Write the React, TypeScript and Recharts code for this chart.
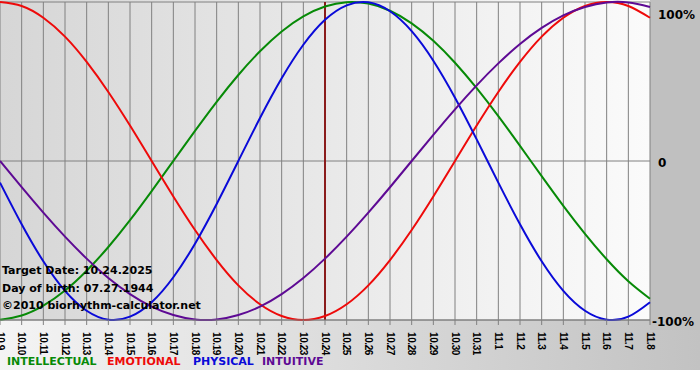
import { LineChart, Line, XAxis, YAxis, CartesianGrid, ReferenceLine } from 'recharts';

// Days shown on the x axis (month.day)
const days = [
  '10.9', '10.10', '10.11', '10.12', '10.13', '10.14', '10.15', '10.16', '10.17', '10.18',
  '10.19', '10.20', '10.21', '10.22', '10.23', '10.24', '10.25', '10.26', '10.27', '10.28',
  '10.29', '10.30', '10.31', '11.1', '11.2', '11.3', '11.4', '11.5', '11.6', '11.7', '11.8',
];

// Cycle values in percent, one per day
const intellectual = [
  -99.9, -97.2, -91.0, -81.5, -69.0, -54.1, -37.2, -18.9, 0, 18.9,
  37.2, 54.1, 69.0, 81.5, 91.0, 97.2, 99.9, 99.0, 94.5, 86.6,
  75.6, 61.8, 45.8, 28.2, 9.5, -9.5, -28.2, -45.8, -61.8, -75.6, -86.6,
];
const emotional = [
  100, 97.5, 90.1, 78.2, 62.3, 43.4, 22.3, 0, -22.3, -43.4,
  -62.3, -78.2, -90.1, -97.5, -100, -97.5, -90.1, -78.2, -62.3, -43.4,
  -22.3, 0, 22.3, 43.4, 62.3, 78.2, 90.1, 97.5, 100, 97.5, 90.1,
];
const physical = [
  -13.6, -39.8, -63.1, -81.7, -94.2, -99.8, -97.9, -88.8, -73.1, -52.0,
  -27.0, 0, 27.0, 52.0, 73.1, 88.8, 97.9, 99.8, 94.2, 81.7,
  63.1, 39.8, 13.6, -13.6, -39.8, -63.1, -81.7, -94.2, -99.8, -97.9, -88.8,
];
const intuitive = [
  0, -16.5, -32.5, -47.6, -61.4, -73.6, -83.7, -91.6, -96.9, -99.7,
  -99.7, -96.9, -91.6, -83.7, -73.6, -61.4, -47.6, -32.5, -16.5, 0,
  16.5, 32.5, 47.6, 61.4, 73.6, 83.7, 91.6, 96.9, 99.7, 99.7, 96.9,
];

const targetDay = '10.24';
const yTicks = [-100, 0, 100];
const yLabels: Record<number, string> = { 100: '100%', 0: '0', [-100]: '-100%' };

const data = days.map((day, i) => ({
  day,
  intellectual: intellectual[i],
  emotional: emotional[i],
  physical: physical[i],
  intuitive: intuitive[i],
}));

const COLORS = {
  intellectual: '#078a07',
  emotional: '#ee0a0a',
  physical: '#0a0ad8',
  intuitive: '#5e0a94',
};

function DayTick({ x, y, payload }: any) {
  return (
    <text
      x={x}
      y={y + 5}
      transform={`rotate(90 ${x} ${y + 5})`}
      dy="0.35em"
      textAnchor="start"
      fontFamily="Liberation Sans, Arial, sans-serif"
      fontWeight="bold"
      fontSize={10}
      letterSpacing={-0.4}
      fill="#000"
    >
      {payload.value}
    </text>
  );
}

function PctTick({ x, y, payload }: any) {
  const v = payload.value as number;
  const dx = v === -100 ? -6 : 0;
  const dy = v === 100 ? 6 : 2;
  return (
    <text
      x={x + dx}
      y={y + dy}
      dy="0.35em"
      textAnchor="start"
      fontFamily="DejaVu Sans, Verdana, sans-serif"
      fontWeight="bold"
      fontSize={12}
      fill="#000"
    >
      {yLabels[v]}
    </text>
  );
}

const infoStyle: React.CSSProperties = {
  position: 'absolute',
  left: 2,
  fontFamily: 'DejaVu Sans, Verdana, sans-serif',
  fontWeight: 'bold',
  fontSize: 11,
  lineHeight: 1,
  color: '#000',
  whiteSpace: 'nowrap',
};

export default function App() {
  return (
    <div style={{ position: 'absolute', left: 0, top: 0, width: 700, height: 380, background: '#fff', overflow: 'hidden' }}>
      {/* frame background and plot background */}
      <div style={{ position: 'absolute', left: 0, top: 0, width: 700, height: 370, background: 'linear-gradient(to right, #f4f4f4, #c2c2c2)' }} />
      <div style={{ position: 'absolute', left: 650, top: 0, width: 50, height: 330, background: '#c0c0c0' }} />
      <div style={{ position: 'absolute', left: 0, top: 0, width: 650, height: 320, background: 'linear-gradient(to right, #d6d6d6, #fbfbfb)' }} />

      <div style={{ position: 'absolute', left: 0, top: 0 }}>
        <LineChart width={700} height={380} data={data} margin={{ top: 2, right: 0, bottom: 0, left: 0 }}>
          <CartesianGrid stroke="#808080" strokeWidth={1} vertical horizontal />
          <XAxis
            dataKey="day"
            interval={0}
            height={60}
            tick={<DayTick />}
            tickLine={{ stroke: '#808080' }}
            tickSize={5}
            axisLine={{ stroke: '#808080' }}
          />
          <YAxis
            orientation="right"
            width={50}
            domain={[-100, 100]}
            ticks={yTicks}
            tick={<PctTick />}
            tickLine={false}
            axisLine={false}
          />
          <ReferenceLine x={targetDay} stroke="#8a1c1c" strokeWidth={2} />
          <Line type="natural" dataKey="intellectual" stroke={COLORS.intellectual} strokeWidth={2} dot={false} isAnimationActive={false} />
          <Line type="natural" dataKey="emotional" stroke={COLORS.emotional} strokeWidth={2} dot={false} isAnimationActive={false} />
          <Line type="natural" dataKey="physical" stroke={COLORS.physical} strokeWidth={2} dot={false} isAnimationActive={false} />
          <Line type="natural" dataKey="intuitive" stroke={COLORS.intuitive} strokeWidth={2} dot={false} isAnimationActive={false} />
        </LineChart>
      </div>

      <div style={{ ...infoStyle, top: 265 }}>Target Date: 10.24.2025</div>
      <div style={{ ...infoStyle, top: 283 }}>Day of birth: 07.27.1944</div>
      <div style={{ ...infoStyle, top: 300 }}>©2010 biorhythm-calculator.net</div>

      <div style={{ ...infoStyle, left: 7, top: 356, color: COLORS.intellectual }}>INTELLECTUAL</div>
      <div style={{ ...infoStyle, left: 107, top: 356, color: COLORS.emotional }}>EMOTIONAL</div>
      <div style={{ ...infoStyle, left: 193, top: 356, color: COLORS.physical }}>PHYSICAL</div>
      <div style={{ ...infoStyle, left: 262, top: 356, color: COLORS.intuitive }}>INTUITIVE</div>
    </div>
  );
}
